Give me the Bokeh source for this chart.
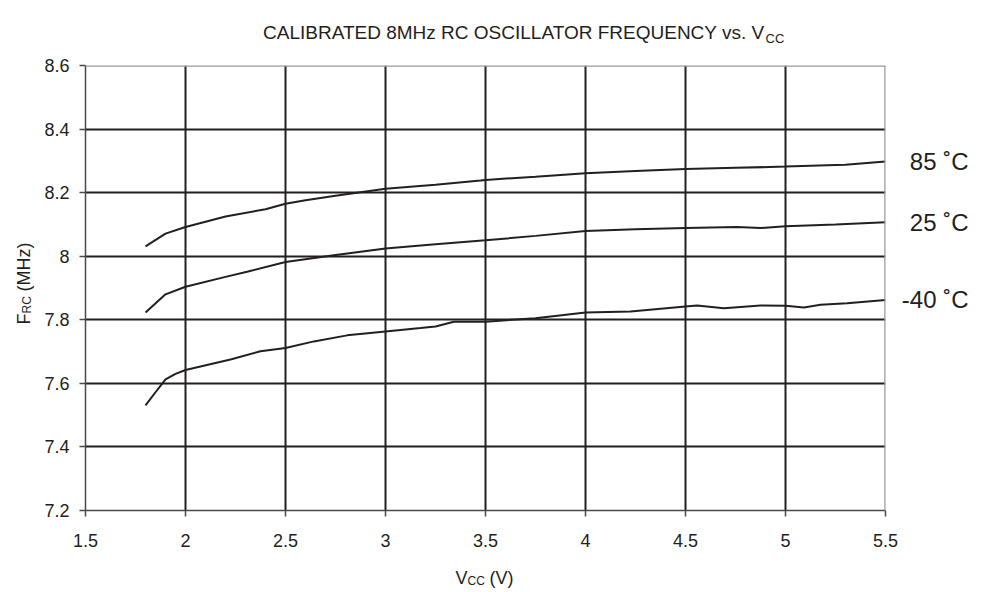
import math
from bokeh.plotting import figure
from bokeh.models import (Range1d, FixedTicker, CustomJSTickFormatter, Label, Span)
from bokeh.embed import file_html
from bokeh.resources import INLINE

# ---- data ----
x_ticks = [1.5, 2, 2.5, 3, 3.5, 4, 4.5, 5, 5.5]
y_ticks = [7.2, 7.4, 7.6, 7.8, 8.0, 8.2, 8.4, 8.6]

vcc_85 = [1.8, 1.9, 2.0, 2.2, 2.4, 2.5, 2.6, 2.75, 2.875, 3.0, 3.25, 3.475, 3.5, 3.75,
          4.0, 4.25, 4.5, 4.75, 5.0, 5.25, 5.3, 5.5]
f_85 = [8.031, 8.071, 8.092, 8.125, 8.148, 8.165, 8.176, 8.190, 8.201, 8.212, 8.225, 8.238,
        8.240, 8.250, 8.261, 8.268, 8.274, 8.278, 8.282, 8.287, 8.288, 8.298]

vcc_25 = [1.8, 1.9, 2.0, 2.2, 2.308, 2.5, 2.742, 3.0, 3.25, 3.5, 3.75, 4.0, 4.25, 4.5,
          4.758, 4.875, 5.0, 5.25, 5.5]
f_25 = [7.823, 7.880, 7.904, 7.935, 7.951, 7.982, 8.003, 8.024, 8.038, 8.050, 8.064, 8.079,
        8.085, 8.0885, 8.092, 8.0885, 8.094, 8.100, 8.107]

vcc_m40 = [1.8, 1.85, 1.9, 1.95, 2.0, 2.225, 2.375, 2.5, 2.642, 2.808, 3.0, 3.175, 3.25,
           3.342, 3.5, 3.75, 4.0, 4.225, 4.5, 4.558, 4.692, 4.875, 5.0, 5.092, 5.175,
           5.308, 5.5]
f_m40 = [7.531, 7.572, 7.6125, 7.630, 7.642, 7.675, 7.701, 7.711, 7.732, 7.751, 7.763,
         7.774, 7.779, 7.794, 7.794, 7.805, 7.823, 7.826, 7.842, 7.845, 7.836, 7.845,
         7.844, 7.839, 7.847, 7.852, 7.8625]

series = [(vcc_85, f_85, "85 \u02daC"), (vcc_25, f_25, "25 \u02daC"), (vcc_m40, f_m40, "-40 \u02daC")]

title_main = "CALIBRATED 8MHz RC OSCILLATOR FREQUENCY vs. V"
title_sub = "CC"

INK = "#231f20"
FONT = "Liberation Sans"

FL, FT, FW, FH = 85, 65, 800, 445   # frame left/top/width/height in canvas px

p = figure(frame_width=FW, frame_height=FH,
           x_range=Range1d(x_ticks[0], x_ticks[-1]), y_range=Range1d(y_ticks[0], y_ticks[-1]),
           output_backend="svg", toolbar_location=None,
           min_border_left=FL, min_border_top=FT,
           min_border_right=989 - FL - FW, min_border_bottom=592 - FT - FH)
p.outline_line_color = None
p.background_fill_color = "white"
p.border_fill_color = "white"

# canvas pixel -> data coordinate helpers (used only to place text labels)
def dx(px):
    return x_ticks[0] + (px - FL) * (x_ticks[-1] - x_ticks[0]) / FW

def dy(py):
    return y_ticks[-1] - (py - FT) * (y_ticks[-1] - y_ticks[0]) / FH

fmt = CustomJSTickFormatter(code="return String(Math.round(tick*10)/10)")
for ax, ticks in ((p.xaxis, x_ticks), (p.yaxis, y_ticks)):
    ax.ticker = FixedTicker(ticks=ticks)
    ax.formatter = fmt
    ax.minor_tick_line_color = None
    ax.major_tick_in = 0
    ax.major_tick_out = 6
    ax.axis_line_color = "#4a4a4a"
    ax.axis_line_width = 1.5
    ax.major_tick_line_color = "#4a4a4a"
    ax.major_tick_line_width = 1.5
    ax.major_label_text_font = FONT
    ax.major_label_text_font_size = "18px"
    ax.major_label_text_color = INK
p.xaxis.major_label_standoff = 17
p.yaxis.major_label_standoff = 10

p.xgrid.ticker = FixedTicker(ticks=x_ticks[1:-1])
p.ygrid.ticker = FixedTicker(ticks=y_ticks[1:-1])
for g in (p.xgrid, p.ygrid):
    g.grid_line_color = INK
    g.grid_line_width = 2

# grey top and right border
p.add_layout(Span(location=y_ticks[-1], dimension="width", line_color="#9a9a9a", line_width=2.5))
p.add_layout(Span(location=x_ticks[-1], dimension="height", line_color="#9a9a9a", line_width=2.5))

def txt(side, x, y, text, size, align="left", angle=0.0):
    p.add_layout(Label(x=x, y=y, text=text, angle=angle,
                       text_align=align, text_baseline="middle",
                       text_font=FONT, text_font_size=size, text_color=INK), side)

for xs, ys, lab in series:
    p.line(xs, ys, line_color=INK, line_width=2)
    txt("right", dx(968), ys[-1], lab, "24px", align="right")

# title with subscript
txt("above", dx(764), dy(32), title_main, "19px", align="right")
txt("above", dx(765), dy(38), title_sub, "13px")

# x axis label V_CC (V)
txt("below", dx(455), dy(577), "V", "18px")
txt("below", dx(467), dy(580), "CC", "12px")
txt("below", dx(489), dy(577), "(V)", "18px")

# y axis label F_RC (MHz), rotated (placed via the bottom panel, data units)
ang = math.pi / 2
txt("below", dx(23), dy(324), "F", "18px", angle=ang)
txt("below", dx(26), dy(313), "RC", "12px", angle=ang)
txt("below", dx(23), dy(291), "(MHz)", "18px", angle=ang)

open("out.html", "w").write(file_html(p, INLINE))
